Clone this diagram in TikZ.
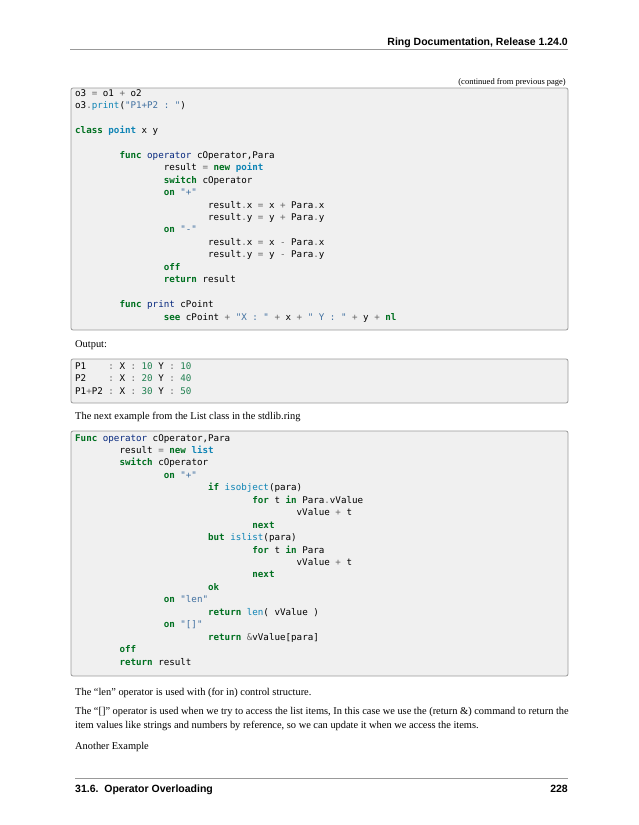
\documentclass[tikz,border=0pt]{standalone}
\usepackage{fontspec}
\setmainfont{Liberation Serif}
\setsansfont{Liberation Sans}
\setmonofont{DejaVu Sans Mono}
\definecolor{kw}{HTML}{007020}
\definecolor{nc}{HTML}{0E84B5}
\definecolor{nf}{HTML}{06287E}
\definecolor{st}{HTML}{4070A0}
\definecolor{nu}{HTML}{208050}
\definecolor{opc}{HTML}{666666}
\definecolor{boxbg}{HTML}{F0F0F0}
\definecolor{boxfr}{HTML}{999999}
\newcommand{\K}[1]{\textcolor{kw}{\textbf{#1}}}
\newcommand{\C}[1]{\textcolor{nc}{#1}}
\newcommand{\F}[1]{\textcolor{nf}{#1}}
\newcommand{\Sg}[1]{\textcolor{st}{#1}}
\newcommand{\N}[1]{\textcolor{nu}{#1}}
\newcommand{\Op}[1]{\textcolor{opc}{#1}}
\newcommand{\T}{\hspace*{44.3pt}}
\begin{document}
\begin{tikzpicture}[x=1pt,y=-1pt,
  code/.style={anchor=base west,inner sep=0pt,font=\fontsize{9.2}{10}\ttfamily},
  body/.style={anchor=base west,inner sep=0pt,font=\fontsize{10.4}{12}\selectfont},
  hdr/.style={inner sep=0pt,font=\fontsize{10.5}{12}\sffamily\bfseries},
  cbox/.style={draw=boxfr,fill=boxbg,rounded corners=2pt,line width=0.8pt}]
\useasboundingbox (0,0) rectangle (638,825);
\node[hdr,anchor=base east] (h) at (568,45) {Ring Documentation, Release 1.24.0};
\draw[boxfr,line width=0.6pt] (70,49.5) -- (568,49.5);
\node[anchor=base east,inner sep=0pt,font=\fontsize{8.5}{9}\selectfont] (cont) at (566,84) {(continued from previous page)};
\draw[cbox] (71,88) rectangle (568,330);
\foreach \i/\t in {
0/{o3 \Op{=} o1 \Op{+} o2},
1/{o3\Op{.}\C{print}(\Sg{"P1+P2 : "})},
3/{\K{class} \C{\textbf{point}} x y},
5/{\T\K{func} \F{operator} cOperator,Para},
6/{\T\T result \Op{=} \K{new} \C{\textbf{point}}},
7/{\T\T\K{switch} cOperator},
8/{\T\T\K{on} \Sg{"+"}},
9/{\T\T\T result\Op{.}x \Op{=} x \Op{+} Para\Op{.}x},
10/{\T\T\T result\Op{.}y \Op{=} y \Op{+} Para\Op{.}y},
11/{\T\T\K{on} \Sg{"-"}},
12/{\T\T\T result\Op{.}x \Op{=} x \Op{-} Para\Op{.}x},
13/{\T\T\T result\Op{.}y \Op{=} y \Op{-} Para\Op{.}y},
14/{\T\T\K{off}},
15/{\T\T\K{return} result},
17/{\T\K{func} \F{print} cPoint},
18/{\T\T\K{see} cPoint \Op{+} \Sg{"X : "} \Op{+} x \Op{+} \Sg{" Y : "} \Op{+} y \Op{+} \K{nl}}}
  \node[code] (a\i) at (75,{96+12.45*\i}) {\t};
\node[body] (out) at (75,347) {Output:};
\draw[cbox] (71,359) rectangle (568,403);
\node[code] (b0) at (75,369) {P1\ \ \ \ \Op{:} X \Op{:} \N{10} Y \Op{:} \N{10}};
\node[code] (b1) at (75,381.5) {P2\ \ \ \ \Op{:} X \Op{:} \N{20} Y \Op{:} \N{40}};
\node[code] (b2) at (75,394) {P1\Op{+}P2 \Op{:} X \Op{:} \N{30} Y \Op{:} \N{50}};
\node[body] (nx) at (75,419) {The next example from the List class in the stdlib.ring};
\draw[cbox] (71,431) rectangle (568,676);
\foreach \i/\t in {
0/{\K{Func} \F{operator} cOperator,Para},
1/{\T result \Op{=} \K{new} \C{\textbf{list}}},
2/{\T\K{switch} cOperator},
3/{\T\T\K{on} \Sg{"+"}},
4/{\T\T\T\K{if} \C{isobject}(para)},
5/{\T\T\T\T\K{for} t \K{in} Para\Op{.}vValue},
6/{\T\T\T\T\T vValue \Op{+} t},
7/{\T\T\T\T\K{next}},
8/{\T\T\T\K{but} \C{islist}(para)},
9/{\T\T\T\T\K{for} t \K{in} Para},
10/{\T\T\T\T\T vValue \Op{+} t},
11/{\T\T\T\T\K{next}},
12/{\T\T\T\K{ok}},
13/{\T\T\K{on} \Sg{"len"}},
14/{\T\T\T\K{return} \C{len}( vValue )},
15/{\T\T\K{on} \Sg{"[]"}},
16/{\T\T\T\K{return} \Op{\&}vValue[para]},
17/{\T\K{off}},
18/{\T\K{return} result}}
  \node[code] (c\i) at (75,{441+12.45*\i}) {\t};
\node[body] (p1) at (75,695) {The “len” operator is used with (for in) control structure.};
\node[body] (p2) at (75,714) {The “[]” operator is used when we try to access the list items, In this case we use the (return \&) command to return the};
\node[body] (p3) at (75,728) {item values like strings and numbers by reference, so we can update it when we access the items.};
\node[body] (p4) at (75,749) {Another Example};
\draw[boxfr,line width=0.6pt] (75,778) -- (568,778);
\node[hdr,anchor=base west] (f1) at (75,792) {31.6.\ \ Operator Overloading};
\node[hdr,anchor=base east] (f2) at (568,792) {228};
\end{tikzpicture}
\end{document}
